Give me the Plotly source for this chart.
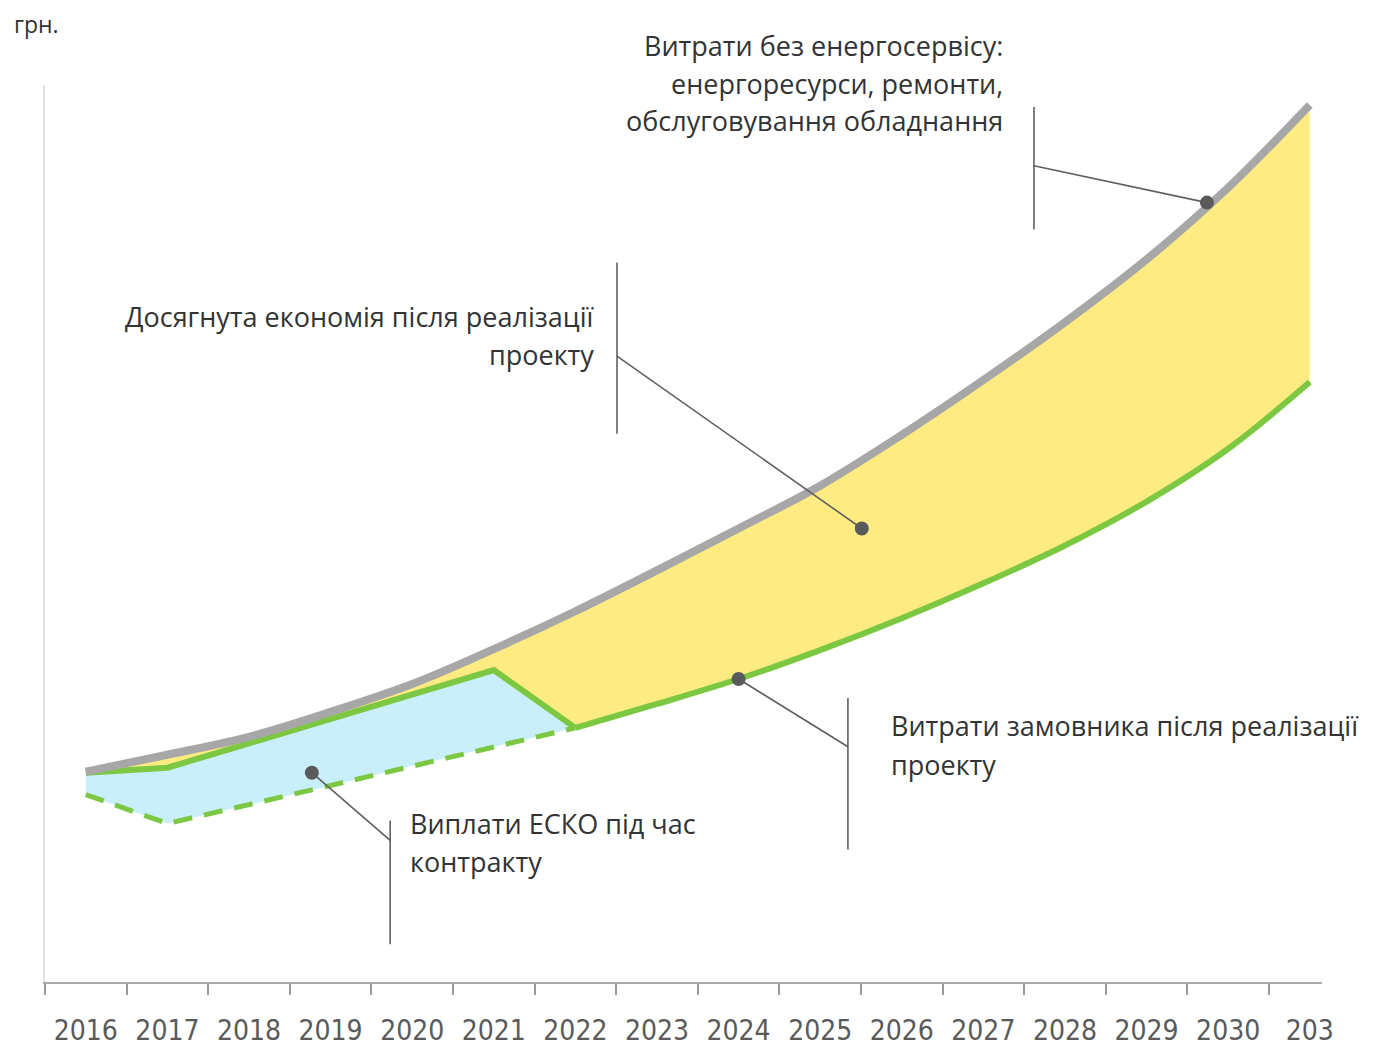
import plotly.graph_objects as go

# ---- data (arbitrary "грн." units) ----
years = [str(y) for y in range(2016, 2032)]
tick_text = [str(y) for y in range(2016, 2031)] + ["203"]

# costs without energy service (grey line)
cost_without = [211, 228, 246, 271, 299, 334, 372, 413, 455, 498, 549, 604, 662, 725, 797, 880]
# customer costs after the project (green solid line)
cost_customer = [210, 215, 239.5, 264, 288.5, 313, 255, 279, 304, 333, 365, 400, 438, 482, 535, 602]
# lower bound during ESCO contract (green dashed line), 2016-2022
contract_years = years[:7]
cost_contract_low = [188, 159, 178, 197, 217, 236, 255]

GREY = "#a7a7a7"
GREEN = "#7cc843"
YELLOW = "#feec82"
BLUE = "#c9effb"
DOT = "#5a5a5a"
TXT = "#333333"
LEAD = "#5f5f5f"

fig = go.Figure()

# yellow: savings between grey and green
fig.add_trace(go.Scatter(
    x=years + years[::-1],
    y=cost_without + cost_customer[::-1],
    fill="toself", fillcolor=YELLOW, line=dict(width=0),
    mode="lines", hoverinfo="skip", showlegend=False))

# blue: ESCO payments during contract
n = len(contract_years)
fig.add_trace(go.Scatter(
    x=contract_years + contract_years[::-1],
    y=cost_customer[:n] + cost_contract_low[::-1],
    fill="toself", fillcolor=BLUE, line=dict(width=0),
    mode="lines", hoverinfo="skip", showlegend=False))

# dashed green
fig.add_trace(go.Scatter(
    x=contract_years, y=cost_contract_low, mode="lines",
    line=dict(color=GREEN, width=5, dash="19px,12px"),
    hoverinfo="skip", showlegend=False))

# green solid: contract period (straight) + after (smooth)
fig.add_trace(go.Scatter(
    x=years[:n], y=cost_customer[:n], mode="lines",
    line=dict(color=GREEN, width=6), hoverinfo="skip", showlegend=False))
fig.add_trace(go.Scatter(
    x=years[n - 1:], y=cost_customer[n - 1:], mode="lines",
    line=dict(color=GREEN, width=6, shape="spline"),
    hoverinfo="skip", showlegend=False))

# grey line
fig.add_trace(go.Scatter(
    x=years, y=cost_without, mode="lines",
    line=dict(color=GREY, width=8, shape="spline"),
    hoverinfo="skip", showlegend=False))

# ---- callouts: (dot x, dot y, bar x, bar y0, bar y1, elbow y) in axis units ----
callouts = [
    (13.74, 782, 11.62, 755, 878, 819),
    (9.51, 455, 6.51, 550, 722, 628),
    (8.0, 304, 9.34, 133, 285, 236),
    (2.77, 210, 3.73, 38, 162, 142),
]
shapes = []
for dx, dy, bx, by0, by1, ey in callouts:
    shapes.append(dict(type="line", xref="x", yref="y", x0=bx, x1=bx, y0=by0, y1=by1,
                       line=dict(color=LEAD, width=1.6), layer="above"))
    shapes.append(dict(type="line", xref="x", yref="y", x0=bx, x1=dx, y0=ey, y1=dy,
                       line=dict(color=LEAD, width=1.6), layer="above"))
for dx, dy, *_ in callouts:
    shapes.append(dict(type="circle", xref="x", yref="y",
                       xsizemode="pixel", ysizemode="pixel",
                       xanchor=dx, yanchor=dy, x0=-7, x1=7, y0=-7, y1=7,
                       fillcolor=DOT, line=dict(width=0), layer="above"))
fig.update_layout(shapes=shapes)

FONT = "Open Sans, Noto Sans, sans-serif"
labels = [
    ("Витрати без енергосервісу:", 11.26, 1.0444, "right"),
    ("енергоресурси, ремонти,", 11.26, 1.0022, "right"),
    ("обслуговування обладнання", 11.26, 0.96, "right"),
    ("Досягнута економія після реалізації", 6.25, 0.7422, "right"),
    ("проекту", 6.25, 0.70, "right"),
    ("Витрати замовника після реалізації", 9.84, 0.2856, "left"),
    ("проекту", 9.84, 0.2422, "left"),
    ("Виплати ЕСКО під час", 3.95, 0.1767, "left"),
    ("контракту", 3.95, 0.1344, "left"),
]
for t, x, y, anc in labels:
    fig.add_annotation(text=t, x=x, y=y, xref="x", yref="paper",
                       xanchor=anc, yanchor="middle", showarrow=False,
                       font=dict(family=FONT, size=27, color=TXT))

fig.add_annotation(text="грн.", x=-0.0258, y=1.068, xref="paper", yref="paper",
                   xanchor="left", yanchor="middle", showarrow=False,
                   font=dict(family=FONT, size=23, color=TXT))

fig.update_layout(
    width=1375, height=1051,
    margin=dict(l=37, r=61, t=77, b=74),
    paper_bgcolor="white", plot_bgcolor="white",
    xaxis=dict(
        type="category", categoryorder="array", categoryarray=years,
        range=[-0.5, 15.15], tickson="boundaries",
        tickmode="array", tickvals=years, ticktext=tick_text,
        ticks="outside", ticklen=11, tickwidth=1.5, tickcolor="#9a9a9a",
        showline=True, linecolor="#a9a9a9", linewidth=2,
        showgrid=False, zeroline=False, ticklabelstandoff=22,
        tickfont=dict(family="DejaVu Sans Condensed, Liberation Sans Narrow, sans-serif",
                      size=28, color="#5a5a5a"),
    ),
    yaxis=dict(
        range=[0, 900], showline=True, linecolor="#e2e2e2", linewidth=2,
        showticklabels=False, ticks="", showgrid=False, zeroline=False,
    ),
)

fig.write_html("out.html")
